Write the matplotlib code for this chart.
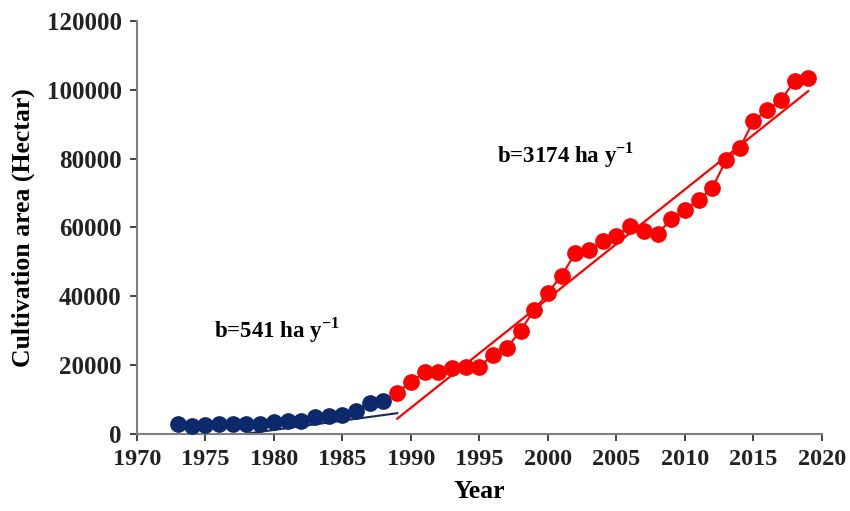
import numpy as np
import matplotlib.pyplot as plt

plt.rcParams['font.family'] = ['Liberation Serif', 'DejaVu Serif']
plt.rcParams['font.weight'] = 'bold'
plt.rcParams['mathtext.fontset'] = 'custom'
plt.rcParams['mathtext.rm'] = 'Liberation Serif:bold'
plt.rcParams['mathtext.bf'] = 'Liberation Serif:bold'

# early period (1973-1988) and later period (1989-2019), hectares
years_early = list(range(1973, 1989))
area_early = [2800, 2200, 2500, 3000, 3000, 3000, 3000, 3500,
              3800, 3800, 5000, 5200, 5500, 6500, 9000, 9500]

years_late = list(range(1989, 2020))
area_late = [12000, 15000, 18000, 18000, 19000, 19500, 19500, 23000,
             25000, 30000, 36000, 41000, 46000, 52500, 53500, 56000,
             57500, 60500, 59000, 58000, 62500, 65000, 68000, 71500,
             79500, 83000, 91000, 94000, 97000, 102500, 103500]

slope_early = 541
slope_late = 3174
early_end = 6000   # trend value where the two periods meet
late_mid = 52000   # trend value at the middle of the later period

navy = '#0c2a6b'
red = '#ff0000'

fig = plt.figure(figsize=(8.5, 5.11), dpi=100)
ax = fig.add_axes([0.161, 0.151, 0.806, 0.808])

# trend lines
xe = np.array([years_early[0], years_late[0]])
ax.plot(xe, early_end + slope_early * (xe - years_late[0]),
        color='#1c2a4a', lw=1.5, zorder=1)
xl = np.array([years_late[0], years_late[-1]])
cx = np.mean(years_late)
ax.plot(xl, late_mid + slope_late * (xl - cx), color=red, lw=1.6, zorder=1)

# observed series
ax.plot(years_early, area_early, color=navy, marker='o', ms=11, lw=1.5, zorder=3)
ax.plot(years_late, area_late, color=red, marker='o', ms=11, lw=1.5, zorder=3)

ax.set_xlim(1970, 2020)
ax.set_ylim(0, 120000)
ax.set_xticks(range(1970, 2021, 5))
ax.set_yticks(range(0, 120001, 20000))
ax.tick_params(direction='out', length=5, width=1.2, colors='#222222')
ax.tick_params(axis='x', labelsize=17.5, pad=6)
ax.tick_params(axis='y', labelsize=18, pad=6)
for side in ('top', 'right'):
    ax.spines[side].set_visible(False)
for side in ('left', 'bottom'):
    ax.spines[side].set_color('#7f7f7f')
    ax.spines[side].set_linewidth(1.5)

ax.set_xlabel('Year', fontsize=18.5, fontweight='bold', labelpad=7)
ax.set_ylabel('Cultivation area (Hectar)', fontsize=18.5, fontweight='bold', labelpad=8)

ax.text(1975.6, 28000, r'b=541 ha y$^{-1}$', fontsize=16.5, fontweight='bold')
ax.text(1996.3, 79000, r'b=3174 ha y$^{-1}$', fontsize=16.5, fontweight='bold')

fig.savefig('out.png', dpi=100)
